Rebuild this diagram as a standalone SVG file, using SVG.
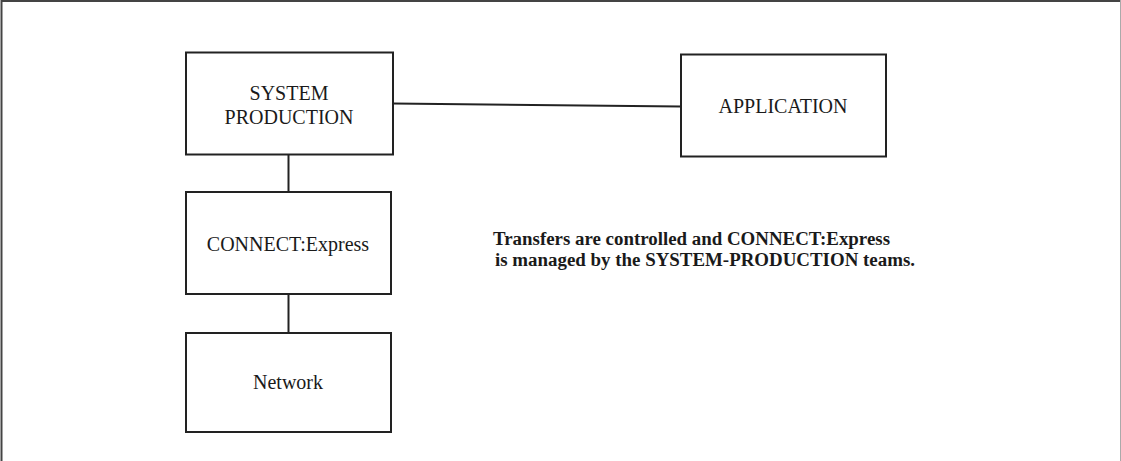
<svg xmlns="http://www.w3.org/2000/svg" width="1121" height="461" viewBox="0 0 1121 461">
<style>
.box{fill:#fff;stroke:#222;stroke-width:2}
.lbl{font-family:"Liberation Serif","Times New Roman",serif;font-size:20px;fill:#1a1a1a;text-anchor:middle}
.note{font-family:"Liberation Serif","Times New Roman",serif;font-size:18px;font-weight:bold;fill:#1a1a1a}
.conn{stroke:#222;stroke-width:2;fill:none}
</style>
<rect x="0" y="0" width="1121" height="461" fill="#fff"/>
<path d="M1.5,461 V1 H1120" fill="none" stroke="#444" stroke-width="2"/>
<line x1="1120.5" y1="0" x2="1120.5" y2="461" stroke="#aaa" stroke-width="1"/>
<g id="connectors">
<line class="conn" x1="288.5" y1="155" x2="288.5" y2="192"/>
<line class="conn" x1="288.5" y1="294" x2="288.5" y2="333"/>
<line class="conn" x1="393" y1="103.5" x2="681" y2="106.5"/>
</g>
<g id="system-production">
<rect class="box" x="186" y="52.5" width="207" height="102"/>
<text class="lbl" x="289" y="100">SYSTEM</text>
<text class="lbl" x="289" y="124">PRODUCTION</text>
</g>
<g id="connect-express">
<rect class="box" x="186" y="192" width="205" height="102"/>
<text class="lbl" x="288" y="251">CONNECT:Express</text>
</g>
<g id="network">
<rect class="box" x="186" y="333" width="205" height="99"/>
<text class="lbl" x="288" y="389">Network</text>
</g>
<g id="application">
<rect class="box" x="681" y="54.5" width="205" height="102"/>
<text class="lbl" x="783" y="113">APPLICATION</text>
</g>
<g id="note">
<text class="note" x="493" y="245" textLength="397" lengthAdjust="spacingAndGlyphs">Transfers are controlled and CONNECT:Express</text>
<text class="note" x="495" y="266" textLength="420" lengthAdjust="spacingAndGlyphs">is managed by the SYSTEM-PRODUCTION teams.</text>
</g>
</svg>
